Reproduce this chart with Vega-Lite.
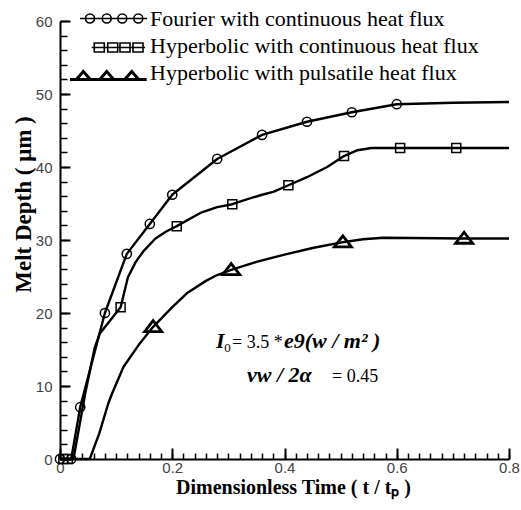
{
  "$schema": "https://vega.github.io/schema/vega-lite/v6.json",
  "width": 449,
  "height": 438,
  "autosize": {"type": "none"},
  "padding": {"left": 60, "top": 21, "right": 12, "bottom": 51},
  "background": "white",
  "config": {"view": {"stroke": null}, "axis": {"grid": false}},
  "datasets": {
    "curves": [
      {"s": "Fourier with continuous heat flux", "t": 0, "d": 0},
      {"s": "Fourier with continuous heat flux", "t": 0.02, "d": 0},
      {"s": "Fourier with continuous heat flux", "t": 0.036, "d": 7.1},
      {"s": "Fourier with continuous heat flux", "t": 0.08, "d": 20},
      {"s": "Fourier with continuous heat flux", "t": 0.119, "d": 28.1},
      {"s": "Fourier with continuous heat flux", "t": 0.16, "d": 32.2},
      {"s": "Fourier with continuous heat flux", "t": 0.2, "d": 36.2},
      {"s": "Fourier with continuous heat flux", "t": 0.28, "d": 41.1},
      {"s": "Fourier with continuous heat flux", "t": 0.36, "d": 44.4},
      {"s": "Fourier with continuous heat flux", "t": 0.44, "d": 46.2},
      {"s": "Fourier with continuous heat flux", "t": 0.52, "d": 47.5},
      {"s": "Fourier with continuous heat flux", "t": 0.6, "d": 48.6},
      {"s": "Fourier with continuous heat flux", "t": 0.7, "d": 48.8},
      {"s": "Fourier with continuous heat flux", "t": 0.8, "d": 48.9},
      {"s": "Hyperbolic with continuous heat flux", "t": 0, "d": 0},
      {"s": "Hyperbolic with continuous heat flux", "t": 0.006, "d": 0},
      {"s": "Hyperbolic with continuous heat flux", "t": 0.014, "d": 0},
      {"s": "Hyperbolic with continuous heat flux", "t": 0.024, "d": 0},
      {"s": "Hyperbolic with continuous heat flux", "t": 0.045, "d": 9},
      {"s": "Hyperbolic with continuous heat flux", "t": 0.062, "d": 15.3},
      {"s": "Hyperbolic with continuous heat flux", "t": 0.071, "d": 17.2},
      {"s": "Hyperbolic with continuous heat flux", "t": 0.108, "d": 20.8},
      {"s": "Hyperbolic with continuous heat flux", "t": 0.121, "d": 24.9},
      {"s": "Hyperbolic with continuous heat flux", "t": 0.135, "d": 27},
      {"s": "Hyperbolic with continuous heat flux", "t": 0.148, "d": 28.4},
      {"s": "Hyperbolic with continuous heat flux", "t": 0.17, "d": 30.2},
      {"s": "Hyperbolic with continuous heat flux", "t": 0.19, "d": 31.2},
      {"s": "Hyperbolic with continuous heat flux", "t": 0.208, "d": 31.9},
      {"s": "Hyperbolic with continuous heat flux", "t": 0.25, "d": 33.7},
      {"s": "Hyperbolic with continuous heat flux", "t": 0.28, "d": 34.5},
      {"s": "Hyperbolic with continuous heat flux", "t": 0.307, "d": 34.9},
      {"s": "Hyperbolic with continuous heat flux", "t": 0.33, "d": 35.5},
      {"s": "Hyperbolic with continuous heat flux", "t": 0.36, "d": 36.2},
      {"s": "Hyperbolic with continuous heat flux", "t": 0.38, "d": 36.6},
      {"s": "Hyperbolic with continuous heat flux", "t": 0.407, "d": 37.5},
      {"s": "Hyperbolic with continuous heat flux", "t": 0.44, "d": 38.6},
      {"s": "Hyperbolic with continuous heat flux", "t": 0.476, "d": 40.0},
      {"s": "Hyperbolic with continuous heat flux", "t": 0.506, "d": 41.5},
      {"s": "Hyperbolic with continuous heat flux", "t": 0.53, "d": 42.3},
      {"s": "Hyperbolic with continuous heat flux", "t": 0.555, "d": 42.6},
      {"s": "Hyperbolic with continuous heat flux", "t": 0.606, "d": 42.6},
      {"s": "Hyperbolic with continuous heat flux", "t": 0.706, "d": 42.6},
      {"s": "Hyperbolic with continuous heat flux", "t": 0.8, "d": 42.6},
      {"s": "Hyperbolic with pulsatile heat flux", "t": 0, "d": 0},
      {"s": "Hyperbolic with pulsatile heat flux", "t": 0.053, "d": 0},
      {"s": "Hyperbolic with pulsatile heat flux", "t": 0.07, "d": 3.5},
      {"s": "Hyperbolic with pulsatile heat flux", "t": 0.086, "d": 7.6},
      {"s": "Hyperbolic with pulsatile heat flux", "t": 0.093, "d": 9},
      {"s": "Hyperbolic with pulsatile heat flux", "t": 0.113, "d": 12.6},
      {"s": "Hyperbolic with pulsatile heat flux", "t": 0.14, "d": 15.6},
      {"s": "Hyperbolic with pulsatile heat flux", "t": 0.166, "d": 18.1},
      {"s": "Hyperbolic with pulsatile heat flux", "t": 0.2, "d": 20.8},
      {"s": "Hyperbolic with pulsatile heat flux", "t": 0.226, "d": 22.7},
      {"s": "Hyperbolic with pulsatile heat flux", "t": 0.26, "d": 24.4},
      {"s": "Hyperbolic with pulsatile heat flux", "t": 0.28, "d": 25.2},
      {"s": "Hyperbolic with pulsatile heat flux", "t": 0.305, "d": 25.9},
      {"s": "Hyperbolic with pulsatile heat flux", "t": 0.35, "d": 27},
      {"s": "Hyperbolic with pulsatile heat flux", "t": 0.4, "d": 28},
      {"s": "Hyperbolic with pulsatile heat flux", "t": 0.45, "d": 28.9},
      {"s": "Hyperbolic with pulsatile heat flux", "t": 0.504, "d": 29.7},
      {"s": "Hyperbolic with pulsatile heat flux", "t": 0.54, "d": 30.1},
      {"s": "Hyperbolic with pulsatile heat flux", "t": 0.576, "d": 30.3},
      {"s": "Hyperbolic with pulsatile heat flux", "t": 0.72, "d": 30.2},
      {"s": "Hyperbolic with pulsatile heat flux", "t": 0.8, "d": 30.2}
    ],
    "fourierMarkers": [
      {"t": 0, "d": 0},
      {"t": 0.02, "d": 0},
      {"t": 0.036, "d": 7.1},
      {"t": 0.08, "d": 20},
      {"t": 0.119, "d": 28.1},
      {"t": 0.16, "d": 32.2},
      {"t": 0.2, "d": 36.2},
      {"t": 0.28, "d": 41.1},
      {"t": 0.36, "d": 44.4},
      {"t": 0.44, "d": 46.2},
      {"t": 0.52, "d": 47.5},
      {"t": 0.6, "d": 48.6}
    ],
    "hyperbolicMarkers": [
      {"t": 0.006, "d": 0},
      {"t": 0.014, "d": 0},
      {"t": 0.108, "d": 20.8},
      {"t": 0.208, "d": 31.9},
      {"t": 0.307, "d": 34.9},
      {"t": 0.407, "d": 37.5},
      {"t": 0.506, "d": 41.5},
      {"t": 0.606, "d": 42.6},
      {"t": 0.706, "d": 42.6}
    ],
    "pulsatileMarkers": [
      {"t": 0.166, "d": 18.1},
      {"t": 0.305, "d": 25.9},
      {"t": 0.504, "d": 29.7},
      {"t": 0.72, "d": 30.2}
    ],
    "annoItalic": [
      {"t": 0.278, "d": 15.2, "label": "I"},
      {"t": 0.399, "d": 15.2, "label": "e9(w / m² )"},
      {"t": 0.3332, "d": 10.55, "label": "vw / 2α"}
    ],
    "annoSub": [
      {"t": 0.2925, "d": 14.7, "label": "0"}
    ],
    "annoNormal": [
      {"t": 0.3065, "d": 15.2, "label": "= 3.5 *"},
      {"t": 0.4846, "d": 10.55, "label": "= 0.45"}
    ]
  },
  "resolve": {"axis": {"x": "independent", "y": "independent"}},
  "layer": [
    {
      "data": {"name": "curves"},
      "mark": {"type": "line", "strokeWidth": 2.4, "strokeJoin": "round"},
      "encoding": {
        "x": {
          "field": "t", "type": "quantitative",
          "scale": {"domain": [0, 0.8], "nice": false, "zero": false},
          "axis": {
            "orient": "bottom",
            "values": [0, 0.2, 0.4, 0.6, 0.8],
            "format": "~g",
            "tickSize": -11, "tickWidth": 2, "tickColor": "black",
            "domainWidth": 2, "domainColor": "black",
            "labelFont": "Liberation Sans", "labelFontSize": 15, "labelColor": "#444",
            "labelPadding": 12.5, "labelFlush": false,
            "title": "Dimensionless Time ( t / tₚ )",
            "titleFont": "Liberation Serif", "titleFontWeight": "bold", "titleFontSize": 20, "titleColor": "black",
            "titleX": 233, "titleY": 18.7
          }
        },
        "y": {
          "field": "d", "type": "quantitative",
          "scale": {"domain": [0, 60], "nice": false, "zero": false},
          "axis": {
            "orient": "left",
            "values": [0, 10, 20, 30, 40, 50, 60],
            "tickSize": -10, "tickWidth": 2, "tickColor": "black",
            "domainWidth": 2, "domainColor": "black",
            "labelFont": "Liberation Sans", "labelFontSize": 15, "labelColor": "#444",
            "labelPadding": 18, "labelFlush": false,
            "title": "Melt Depth ( μm )",
            "titleFont": "Liberation Serif", "titleFontWeight": "bold", "titleFontSize": 23, "titleColor": "black",
            "titleX": -25, "titleY": 183
          }
        },
        "color": {
          "field": "s", "type": "nominal",
          "scale": {
            "domain": ["Fourier with continuous heat flux", "Hyperbolic with continuous heat flux", "Hyperbolic with pulsatile heat flux"],
            "range": ["black", "black", "black"]
          },
          "legend": {
            "title": null,
            "orient": "none",
            "legendX": 29,
            "legendY": -13.5,
            "direction": "vertical",
            "padding": 0,
            "symbolSize": 4,
            "symbolStrokeWidth": 1.6,
            "labelFont": "Liberation Serif",
            "labelFontSize": 22,
            "labelColor": "black",
            "labelOffset": 39,
            "labelLimit": 400,
            "rowPadding": 5,
            "encode": {
              "symbols": {
                "update": {
                  "shape": {"signal": "datum.value === 'Fourier with continuous heat flux' ? 'M-20,0L47,0M-14.5,0a4.5,4.5 0 1,0 9,0a4.5,4.5 0 1,0 -9,0M2.2,0a4.5,4.5 0 1,0 9,0a4.5,4.5 0 1,0 -9,0M17.8,0a4.5,4.5 0 1,0 9,0a4.5,4.5 0 1,0 -9,0M33.8,0a4.5,4.5 0 1,0 9,0a4.5,4.5 0 1,0 -9,0' : datum.value === 'Hyperbolic with continuous heat flux' ? 'M-8.3,2L45,2M-5.7,-2.5h10v9h-10ZM7.7,-2.5h10v9h-10ZM20,-2.5h10v9h-10ZM33,-2.5h10v9h-10Z' : 'M-30,7L46.7,7M-16.7,-1L-9.7,7L-23.7,7ZM6.7,-1L13.7,7L-0.3,7ZM31.7,-1L38.7,7L24.7,7Z'"},
                  "strokeWidth": {"signal": "datum.value === 'Hyperbolic with pulsatile heat flux' ? 3 : 1.6"},
                  "fill": {"value": "transparent"},
                  "stroke": {"value": "black"},
                  "opacity": {"value": 1}
                }
              }
            }
          }
        }
      }
    },
    {
      "data": {"name": "fourierMarkers"},
      "mark": {"type": "point", "shape": "circle", "filled": false, "stroke": "black", "strokeWidth": 1.5, "size": 85, "opacity": 1},
      "encoding": {
        "x": {
          "field": "t", "type": "quantitative",
          "axis": {
            "orient": "bottom",
            "values": [0, 0.02, 0.04, 0.06, 0.08, 0.1, 0.12, 0.14, 0.16, 0.18, 0.2, 0.22, 0.24, 0.26, 0.28, 0.3, 0.32, 0.34, 0.36, 0.38, 0.4, 0.42, 0.44, 0.46, 0.48, 0.5, 0.52, 0.54, 0.56, 0.58, 0.6, 0.62, 0.64, 0.66, 0.68, 0.7, 0.72, 0.74, 0.76, 0.78, 0.8],
            "tickSize": -6, "tickWidth": 1.5, "tickColor": "black",
            "domain": false, "labels": false, "title": null
          }
        },
        "y": {
          "field": "d", "type": "quantitative",
          "axis": {
            "orient": "left",
            "values": [0, 2, 4, 6, 8, 10, 12, 14, 16, 18, 20, 22, 24, 26, 28, 30, 32, 34, 36, 38, 40, 42, 44, 46, 48, 50, 52, 54, 56, 58, 60],
            "tickSize": -7, "tickWidth": 1.5, "tickColor": "black",
            "domain": false, "labels": false, "title": null
          }
        }
      }
    },
    {
      "data": {"name": "hyperbolicMarkers"},
      "mark": {"type": "point", "shape": "square", "filled": false, "stroke": "black", "strokeWidth": 1.5, "size": 81, "opacity": 1},
      "encoding": {
        "x": {"field": "t", "type": "quantitative", "axis": null},
        "y": {"field": "d", "type": "quantitative", "axis": null}
      }
    },
    {
      "data": {"name": "pulsatileMarkers"},
      "mark": {"type": "point", "shape": "M0,-1.4L1.9,1.05L-1.9,1.05Z", "filled": false, "stroke": "black", "strokeWidth": 2.8, "size": 81, "opacity": 1},
      "encoding": {
        "x": {"field": "t", "type": "quantitative", "axis": null},
        "y": {"field": "d", "type": "quantitative", "axis": null}
      }
    },
    {
      "data": {"name": "annoItalic"},
      "mark": {"type": "text", "align": "left", "baseline": "alphabetic", "font": "Liberation Serif", "fontSize": 22, "fontStyle": "italic", "fontWeight": "bold", "color": "black"},
      "encoding": {
        "x": {"field": "t", "type": "quantitative", "axis": null},
        "y": {"field": "d", "type": "quantitative", "axis": null},
        "text": {"field": "label"}
      }
    },
    {
      "data": {"name": "annoSub"},
      "mark": {"type": "text", "align": "left", "baseline": "alphabetic", "font": "Liberation Serif", "fontSize": 13, "color": "black"},
      "encoding": {
        "x": {"field": "t", "type": "quantitative", "axis": null},
        "y": {"field": "d", "type": "quantitative", "axis": null},
        "text": {"field": "label"}
      }
    },
    {
      "data": {"name": "annoNormal"},
      "mark": {"type": "text", "align": "left", "baseline": "alphabetic", "font": "Liberation Serif", "fontSize": 18, "color": "black"},
      "encoding": {
        "x": {"field": "t", "type": "quantitative", "axis": null},
        "y": {"field": "d", "type": "quantitative", "axis": null},
        "text": {"field": "label"}
      }
    }
  ]
}
